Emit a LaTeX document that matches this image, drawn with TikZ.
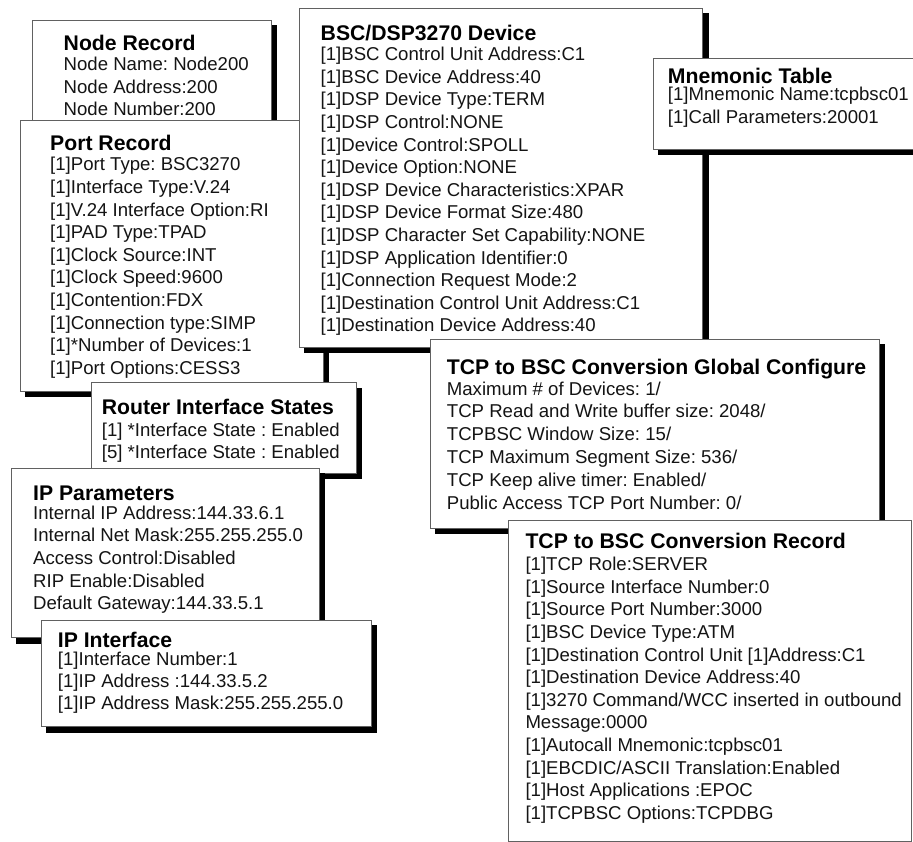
\documentclass[tikz,border=0pt]{standalone}
\usepackage{fontspec}
\setmainfont{Liberation Sans}
\usetikzlibrary{shadows}
\newcommand\rw[1]{\hbox{#1}}
\frenchspacing
\tikzset{
  x=1pt,y=-1pt,
  panelbase/.style={rectangle,anchor=north west,inner sep=0pt,outer sep=0pt,draw=black!62,line width=0.9pt,fill=white},
  panel/.style={panelbase,general shadow={fill=black,draw=black,line width=0.9pt,shadow xshift=5.3pt,shadow yshift=-5.3pt}},
  ttl/.style={anchor=base west,inner sep=0pt,text=black,font=\fontsize{21.2}{24}\selectfont\bfseries},
  body/.style={anchor=base west,inner sep=0pt,text=black!92,font=\fontsize{18.6}{22.6}\selectfont},
}
\begin{document}
\begin{tikzpicture}
\useasboundingbox (0,0) rectangle (913,842);
\clip (0,0) rectangle (913,842);
\fill[white] (0,0) rectangle (913,842);

% Node Record
\node[panel,minimum width=239.5pt,minimum height=110pt] (nodebox) at (32,20.5) {};
\node[ttl] (nodetitle) at (63.5,50.7) {Node Record};
\node[body] (nodetext) at (63.5,70.7) {\vtop{
  \rw{Node Name: Node200}\rw{Node Address:200}\rw{Node Number:200}}};

% Port Record
\node[panel,minimum width=303pt,minimum height=271pt] (portbox) at (20,120) {};
\node[ttl] (porttitle) at (50,150.7) {Port Record};
\node[body] (porttext) at (50,171) {\vtop{
  \rw{[1]Port Type: BSC3270}\rw{[1]Interface Type:V.24}\rw{[1]V.24 Interface Option:RI}
  \rw{[1]PAD Type:TPAD}\rw{[1]Clock Source:INT}\rw{[1]Clock Speed:9600}
  \rw{[1]Contention:FDX}\rw{[1]Connection type:SIMP}\rw{[1]*Number of Devices:1}
  \rw{[1]Port Options:CESS3}}};

% BSC/DSP3270 Device
\node[panel,minimum width=403.2pt,minimum height=338.5pt] (bscbox) at (299.5,8.5) {};
\node[ttl] (bsctitle) at (320.5,40.7) {BSC/DSP3270 Device};
\node[body] (bsctext) at (320.5,60.7) {\vtop{
  \rw{[1]BSC Control Unit Address:C1}\rw{[1]BSC Device Address:40}\rw{[1]DSP Device Type:TERM}
  \rw{[1]DSP Control:NONE}\rw{[1]Device Control:SPOLL}\rw{[1]Device Option:NONE}
  \rw{[1]DSP Device Characteristics:XPAR}\rw{[1]DSP Device Format Size:480}
  \rw{[1]DSP Character Set Capability:NONE}\rw{[1]DSP Application Identifier:0}
  \rw{[1]Connection Request Mode:2}\rw{[1]Destination Control Unit Address:C1}
  \rw{[1]Destination Device Address:40}}};

% Mnemonic Table
\node[panel,minimum width=272pt,minimum height=90.5pt] (mnembox) at (653.3,58.5) {};
\node[ttl] (mnemtitle) at (667.7,83.3) {Mnemonic Table};
\node[body] (mnemtext) at (667.7,100.7) {\vtop{
  \rw{[1]Mnemonic Name:tcpbsc01}\rw{[1]Call Parameters:20001}}};

% TCP to BSC Conversion Global Configure
\node[panel,minimum width=449pt,minimum height=188.5pt] (globalbox) at (430,339.5) {};
\node[ttl] (globaltitle) at (446.7,374) {TCP to BSC Conversion Global Configure};
\node[body] (globaltext) at (446.7,395) {\vtop{\baselineskip=22.8pt\relax
  \rw{Maximum \# of Devices: 1/}\rw{TCP Read and Write buffer size: 2048/}
  \rw{TCPBSC Window Size: 15/}\rw{TCP Maximum Segment Size: 536/}
  \rw{TCP Keep alive timer: Enabled/}\rw{Public Access TCP Port Number: 0/}}};

% TCP to BSC Conversion Record
\node[panelbase,minimum width=403.7pt,minimum height=321pt] (recordbox) at (508,520) {};
\node[ttl] (recordtitle) at (525.3,548.7) {TCP to BSC Conversion Record};
\node[body] (recordtext) at (525.3,570.7) {\vtop{
  \rw{[1]TCP Role:SERVER}\rw{[1]Source Interface Number:0}\rw{[1]Source Port Number:3000}
  \rw{[1]BSC Device Type:ATM}\rw{[1]Destination Control Unit [1]Address:C1}
  \rw{[1]Destination Device Address:40}\rw{[1]3270 Command/WCC inserted in outbound}
  \rw{Message:0000}\rw{[1]Autocall Mnemonic:tcpbsc01}\rw{[1]EBCDIC/ASCII Translation:Enabled}
  \rw{[1]Host Applications :EPOC}\rw{[1]TCPBSC Options:TCPDBG}}};

% Router Interface States
\node[panel,minimum width=265.5pt,minimum height=90.3pt] (routerbox) at (91,382.7) {};
\node[ttl] (routertitle) at (101.7,414.7) {Router Interface States};
\node[body] (routertext) at (101.7,436.3) {\vtop{\baselineskip=22pt\relax
  \rw{[1] *Interface State : Enabled}\rw{[5] *Interface State : Enabled}}};

% IP Parameters
\node[panel,minimum width=308pt,minimum height=169.7pt] (ipparbox) at (11.5,468) {};
\node[ttl] (ippartitle) at (33,500.7) {IP Parameters};
\node[body] (ippartext) at (33,519.3) {\vtop{
  \rw{Internal IP Address:144.33.6.1}\rw{Internal Net Mask:255.255.255.0}
  \rw{Access Control:Disabled}\rw{RIP Enable:Disabled}\rw{Default Gateway:144.33.5.1}}};

% IP Interface
\node[panel,minimum width=330pt,minimum height=106.4pt] (ipifbox) at (41.5,620.3) {};
\node[ttl] (ipiftitle) at (57.7,647.3) {IP Interface};
\node[body] (ipiftext) at (57.7,665.3) {\vtop{\baselineskip=22.3pt\relax
  \rw{[1]Interface Number:1}\rw{[1]IP Address :144.33.5.2}\rw{[1]IP Address Mask:255.255.255.0}}};
\end{tikzpicture}
\end{document}
